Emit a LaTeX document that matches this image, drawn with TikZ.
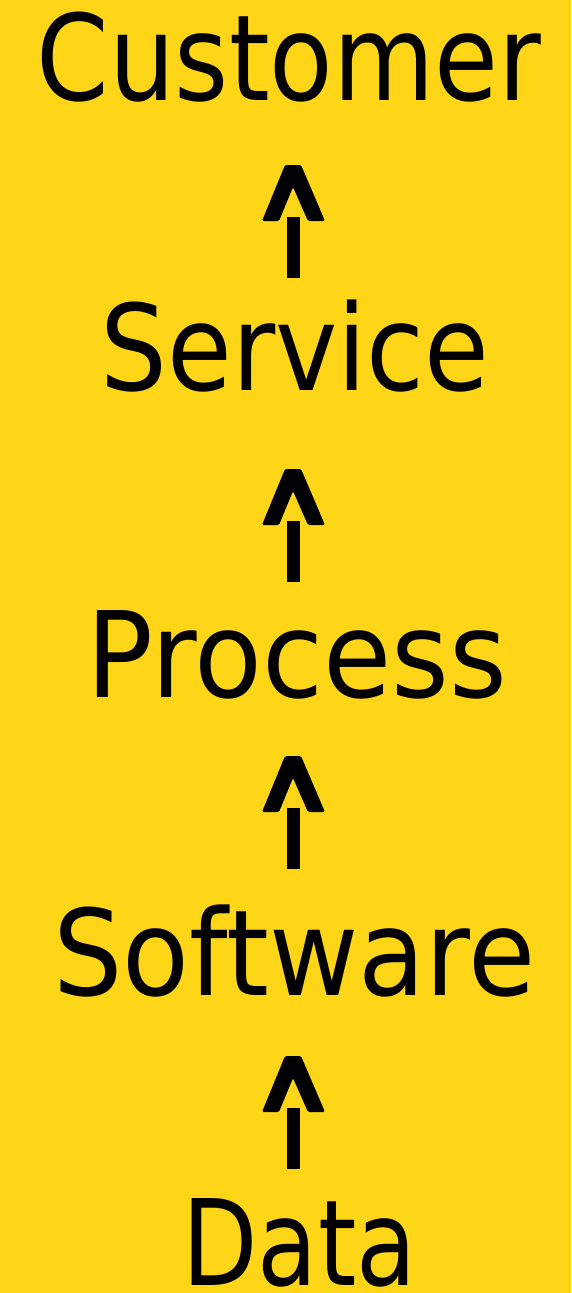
\documentclass[tikz,border=0pt]{standalone}
\usepackage{fontspec}
\setmainfont{DejaVu Sans}
\usepackage{graphicx}
\definecolor{bgyellow}{RGB}{254,214,23}
\newcommand\bigword{\fontsize{119.3pt}{120pt}\selectfont}
\newsavebox\wordbox
% #1 text, #2 target box width (pt)
\newcommand\fitword[2]{\sbox\wordbox{\bigword #1}\scalebox{\fpeval{(#2)/(\the\wd\wordbox)}}[1]{\usebox\wordbox}}
\tikzset{
  word/.style={anchor=base, inner sep=0pt, outer sep=0pt, text=black},
  chevron/.style={fill=black, rounded corners=1.5pt},
  shaft/.style={fill=black}
}
\newcommand\uparrowat[1]{%
  \fill[chevron] ([shift={(-31,-56)}]#1) -- ([shift={(-8,0)}]#1) -- ([shift={(8,0)}]#1) -- ([shift={(32,-56)}]#1) -- ([shift={(15,-56)}]#1) -- ([shift={(0,-22)}]#1) -- ([shift={(-14,-56)}]#1) -- cycle;
  \fill[shaft] ([shift={(-6.5,-52)}]#1) rectangle ([shift={(6.5,-113)}]#1);
}
\begin{document}
\begin{tikzpicture}[x=1pt,y=1pt]
\useasboundingbox (0,0) rectangle (571,-1293);
\fill[bgyellow] (0,0) rectangle (571,-1293);
\node[word] (customer) at (289,-100) {\fitword{Customer}{505}};
\node[word] (service) at (295,-390) {\fitword{Service}{389}};
\node[word] (process) at (297,-697) {\fitword{Process}{421}};
\node[word] (software) at (294.5,-995) {\fitword{Software}{482}};
\node[word] (data) at (299.5,-1285) {\fitword{Data}{234}};
\coordinate (a1) at (293,-165);
\coordinate (a2) at (293,-469);
\coordinate (a3) at (293,-756);
\coordinate (a4) at (293,-1056);
\uparrowat{a1}
\uparrowat{a2}
\uparrowat{a3}
\uparrowat{a4}
\end{tikzpicture}
\end{document}
